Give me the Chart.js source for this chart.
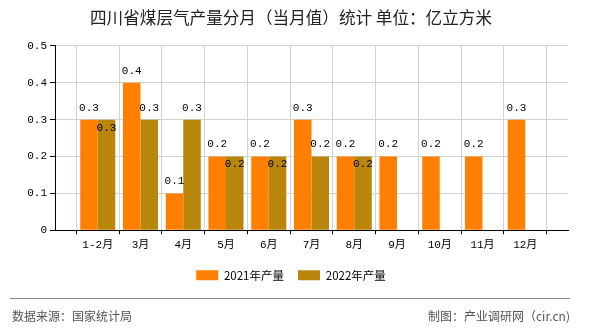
<!DOCTYPE html>
<html>
<head>
<meta charset="utf-8">
<script src="https://cdn.jsdelivr.net/npm/chart.js@4"></script>
<style>
    html, body { margin: 0; padding: 0; background: #fff; }
    .chart-box { width: 590px; height: 330px; }
</style>
</head>
<body>
<div class="chart-box"><canvas class="gas-chart"></canvas></div>
<script>
const months = ['1-2月', '3月', '4月', '5月', '6月', '7月', '8月', '9月', '10月', '11月', '12月']
const output2021 = [0.3, 0.4, 0.1, 0.2, 0.2, 0.3, 0.2, 0.2, 0.2, 0.2, 0.3]
const output2022 = [0.3, 0.3, 0.3, 0.2, 0.2, 0.2, 0.2, null, null, null, null]
const yTicks = [0, 0.1, 0.2, 0.3, 0.4, 0.5]

const monoFont = '"Liberation Mono", "Noto Sans CJK SC", monospace'
const cjkFont = '"Noto Sans CJK SC", "Liberation Sans", sans-serif'

// the axis has an empty slot at each end, bars sit on the inner ticks
const padded = arr => [null, ...arr, null]

const valueLabels = {
    id: 'valueLabels',
    afterDatasetsDraw(chart) {
        const ctx = chart.ctx
        ctx.save()
        ctx.font = '11px ' + monoFont
        ctx.fillStyle = '#000'
        ctx.textAlign = 'center'
        ctx.textBaseline = 'middle'
        const placed = []
        chart.data.datasets.forEach((ds, di) => {
            chart.getDatasetMeta(di).data.forEach((bar, i) => {
                const v = ds.data[i]
                if (v === null || v === undefined) return
                const text = String(v)
                const w = ctx.measureText(text).width
                let y = bar.y - 12
                const hit = placed.some(p => Math.abs(p.x - bar.x) < (p.w + w) / 2 && Math.abs(p.y - y) < 12)
                if (hit) y = bar.y + 8
                placed.push({ x: bar.x, y, w })
                ctx.fillText(text, bar.x, y)
            })
        })
        ctx.restore()
    }
}

const footer = {
    id: 'footer',
    afterDraw(chart) {
        const ctx = chart.ctx
        ctx.save()
        ctx.strokeStyle = '#8a8a8a'
        ctx.lineWidth = 1
        ctx.beginPath()
        ctx.moveTo(10, 298.5)
        ctx.lineTo(570, 298.5)
        ctx.stroke()
        ctx.font = '12px ' + cjkFont
        ctx.fillStyle = '#555'
        ctx.textBaseline = 'middle'
        ctx.textAlign = 'left'
        ctx.fillText('数据来源：国家统计局', 12, 316)
        ctx.textAlign = 'right'
        ctx.fillText('制图：产业调研网（cir.cn)', 570, 316)
        ctx.restore()
    }
}

function createChart() {
    const ctx = document.querySelector('.gas-chart').getContext('2d')
    return new Chart(ctx, {
        type: 'bar',
        data: {
            labels: ['', ...months, ''],
            datasets: [
                {
                    label: '2021年产量',
                    data: padded(output2021),
                    backgroundColor: '#FF8000',
                },
                {
                    label: '2022年产量',
                    data: padded(output2022),
                    backgroundColor: '#B8860B',
                },
            ]
        },
        options: {
            responsive: true,
            maintainAspectRatio: false,
            animation: false,
            categoryPercentage: 0.82,
            barPercentage: 1,
            layout: {
                padding: { left: 14, right: 22, top: 0, bottom: 39 }
            },
            plugins: {
                title: {
                    display: true,
                    text: '四川省煤层气产量分月（当月值）统计 单位：亿立方米',
                    color: '#222',
                    font: { family: cjkFont, size: 16.6, weight: 'normal' },
                    padding: { top: 8, bottom: 18 },
                },
                legend: {
                    position: 'bottom',
                    labels: {
                        boxWidth: 22,
                        boxHeight: 10,
                        padding: 14,
                        color: '#000',
                        font: { family: cjkFont, size: 11.5 },
                    }
                },
                tooltip: { enabled: false },
            },
            scales: {
                x: {
                    offset: false,
                    grid: { color: '#d3d3d3', tickColor: '#000', tickLength: 4 },
                    border: { color: '#000' },
                    ticks: {
                        autoSkip: false,
                        maxRotation: 0,
                        color: '#000',
                        padding: 4,
                        font: { family: monoFont, size: 11 },
                    },
                },
                y: {
                    min: 0,
                    max: 0.5,
                    afterFit: scale => { scale.width = 41 },
                    afterBuildTicks: scale => { scale.ticks = yTicks.map(v => ({ value: v })) },
                    grid: { color: '#d3d3d3', tickColor: '#000', tickLength: 5 },
                    border: { color: '#000' },
                    ticks: {
                        color: '#000',
                        padding: 3,
                        font: { family: monoFont, size: 11 },
                    },
                },
            },
        },
        plugins: [valueLabels, footer],
    })
}

document.addEventListener('DOMContentLoaded', () => {
    createChart()
})
</script>
</body>
</html>
